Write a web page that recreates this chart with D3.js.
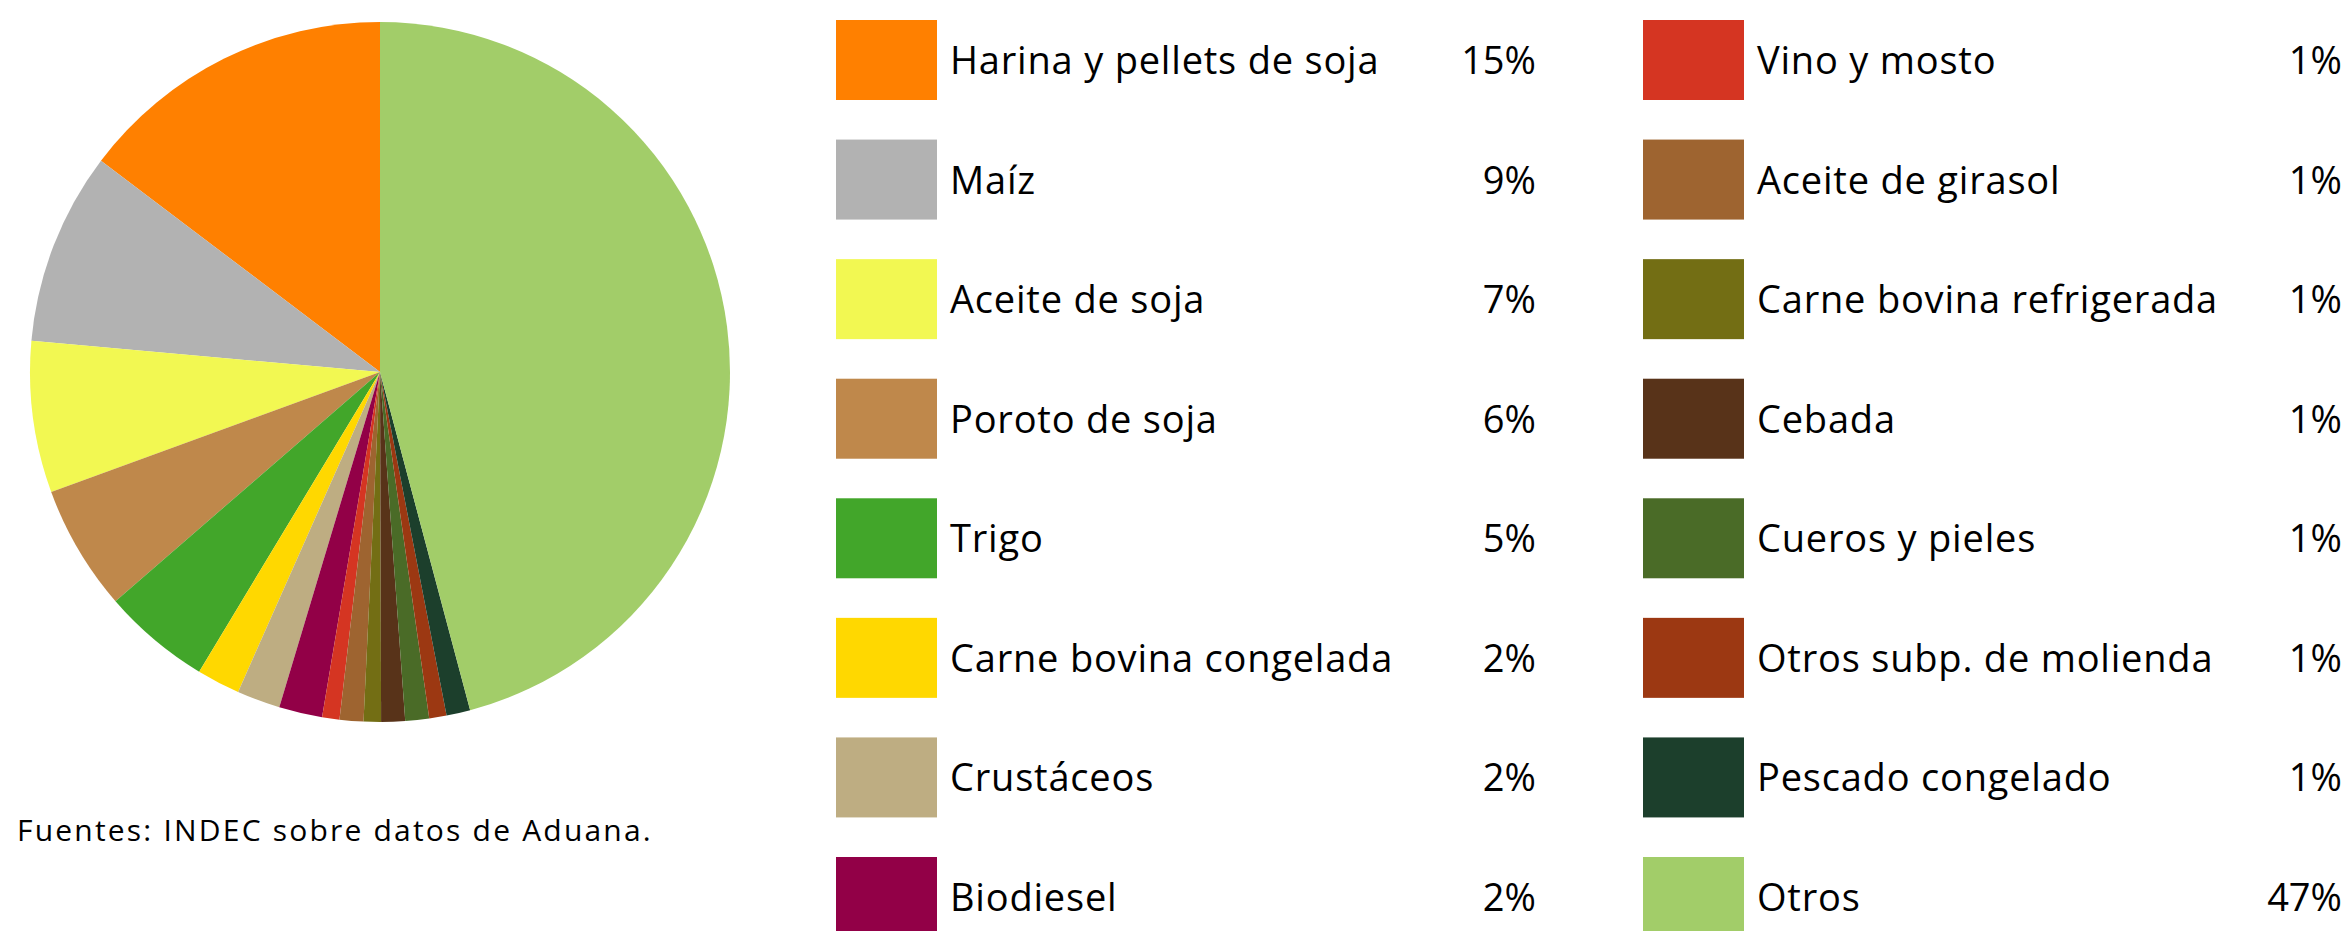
<!DOCTYPE html>
<html>
<head>
    <meta charset="utf-8">
    <title>Exportaciones - composición</title>
    <script src="https://cdn.jsdelivr.net/npm/d3@7/dist/d3.min.js"></script>
    <style>
        body { margin: 0; background: #fff; }
        text { font-family: "Open Sans", Lato, sans-serif; fill: #000; }
    </style>
</head>
<body>
<div id="graph"></div>
<script>
    var width = 2351;
    var height = 931;

    // data, in drawing order (counter-clockwise from 12 o'clock)
    var categories = [
        "Harina y pellets de soja", "Maíz", "Aceite de soja", "Poroto de soja",
        "Trigo", "Carne bovina congelada", "Crustáceos", "Biodiesel",
        "Vino y mosto", "Aceite de girasol", "Carne bovina refrigerada", "Cebada",
        "Cueros y pieles", "Otros subp. de molienda", "Pescado congelado", "Otros"
    ];
    var values = [14.7, 8.9, 7.0, 5.8, 5.0, 2.0, 2.0, 2.0, 0.8, 1.1, 0.8, 1.1, 1.1, 0.8, 1.1, 45.9];
    var pctLabels = ["15%", "9%", "7%", "6%", "5%", "2%", "2%", "2%",
                     "1%", "1%", "1%", "1%", "1%", "1%", "1%", "47%"];
    var colors = [
        "#ff8000", "#b2b2b2", "#f2f852", "#bf884b", "#42a62a", "#ffd800", "#bead82", "#920047",
        "#d53522", "#9e6430", "#736e14", "#583319", "#4a6b27", "#9c3812", "#1c3f2c", "#a2cd69"
    ];
    var source = "Fuentes: INDEC sobre datos de Aduana.";

    var rows = categories.map(function (c, i) {
        return {name: c, value: values[i], pct: pctLabels[i], color: colors[i], i: i};
    });

    var svg = d3.select("#graph").append("svg")
            .attr("width", width)
            .attr("height", height);

    // pie
    var cx = 380, cy = 372, r = 350;
    var pie = d3.pie()
            .sort(null)
            .value(function (d) { return d.value; })
            .startAngle(0)
            .endAngle(-2 * Math.PI);
    var arc = d3.arc().innerRadius(0).outerRadius(r);

    svg.append("g")
            .attr("transform", "translate(" + cx + "," + cy + ")")
            .selectAll("path")
            .data(pie(rows))
            .enter()
            .append("path")
            .attr("d", arc)
            .attr("fill", function (d) { return d.data.color; });

    svg.append("text")
            .attr("x", 17)
            .attr("y", 841)
            .attr("font-size", "30px")
            .attr("letter-spacing", "2.2px")
            .text(source);

    // legend: 2 columns x 8 rows
    var perCol = 8;
    var rowY = d3.scaleLinear().domain([0, perCol - 1]).range([20, 857]);
    var colX = [836, 1643];
    var pctRight = [1536, 2342];
    var swW = 101, swH = 80;

    var item = svg.append("g").selectAll("g")
            .data(rows)
            .enter()
            .append("g")
            .attr("transform", function (d) {
                var col = Math.floor(d.i / perCol);
                return "translate(" + colX[col] + "," + rowY(d.i % perCol) + ")";
            });

    item.append("rect")
            .attr("width", swW)
            .attr("height", swH)
            .attr("fill", function (d) { return d.color; });

    item.append("text")
            .attr("x", swW + 13)
            .attr("y", swH / 2 + 14)
            .attr("font-size", "38px")
            .attr("letter-spacing", "0.8px")
            .text(function (d) { return d.name; });

    item.append("text")
            .attr("x", function (d) {
                var col = Math.floor(d.i / perCol);
                return pctRight[col] - colX[col];
            })
            .attr("y", swH / 2 + 14)
            .attr("font-size", "38px")
            .attr("text-anchor", "end")
            .text(function (d) { return d.pct; });
</script>
</body>
</html>
